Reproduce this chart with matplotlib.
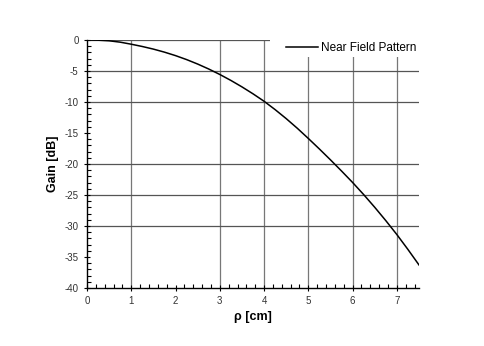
import matplotlib.pyplot as plt
from matplotlib.patches import Rectangle
import numpy as np

plt.rcParams['font.family'] = ['Liberation Sans', 'DejaVu Sans']
plt.rcParams['axes.unicode_minus'] = False

# Near field pattern data
rho = [0.0, 0.25, 0.5, 0.75, 1.0, 1.25, 1.5, 1.75, 2.0, 2.25, 2.5, 2.75, 3.0,
       3.25, 3.5, 3.75, 4.0, 4.25, 4.5, 4.75, 5.0, 5.25, 5.5, 5.75, 6.0,
       6.25, 6.5, 6.75, 7.0, 7.25, 7.5]
gain = [0.0, -0.03, -0.13, -0.35, -0.68, -1.05, -1.47, -1.96, -2.52, -3.16,
        -3.88, -4.68, -5.56, -6.52, -7.56, -8.68, -9.88, -11.23, -12.68,
        -14.23, -15.88, -17.58, -19.33, -21.13, -22.98, -24.93, -26.98,
        -29.13, -31.38, -33.78, -36.28]

xgrid = [1, 3, 4, 5, 6, 7]
ygrid = [0, -5, -10, -20, -25, -30]

fig = plt.figure(figsize=(4.85, 3.46), dpi=100)
ax = fig.add_axes([0.1794, 0.1676, 0.6845, 0.7168])

for xv in xgrid:
    ax.axvline(xv, color='#777777', linewidth=0.9, zorder=1)
for yv in ygrid:
    ax.axhline(yv, color='#555555', linewidth=0.9, zorder=1)

ax.plot(rho, gain, color='black', linewidth=1.1, label='Near Field Pattern', zorder=3)

ax.set_xlim(0, 7.5)
ax.set_ylim(-40, 0)
ax.set_xticks(np.arange(0, 8, 1))
ax.set_yticks(np.arange(-40, 1, 5))
ax.set_xticks(np.arange(0, 7.51, 0.2), minor=True)
ax.set_yticks(np.arange(-40, 0.1, 1), minor=True)
ax.tick_params(which='major', direction='inout', length=5, width=0.8,
               labelsize=7, labelcolor='#333333')
ax.tick_params(which='minor', direction='in', length=3, width=0.8)

for s in ['top', 'right']:
    ax.spines[s].set_visible(False)
for s in ['left', 'bottom']:
    ax.spines[s].set_linewidth(1.0)

ax.set_xlabel('ρ [cm]', fontsize=9, fontweight='bold', labelpad=3)
ax.set_ylabel('Gain [dB]', fontsize=9, fontweight='bold', labelpad=4)

# white area behind the legend that hides the grid
ax.add_patch(Rectangle((0.552, 0.93), 0.46, 0.09, transform=ax.transAxes,
                       facecolor='white', edgecolor='none', clip_on=False, zorder=2))

ax.legend(loc='center left', bbox_to_anchor=(0.600, 0.966), fontsize=8.5,
          frameon=False, borderpad=0, borderaxespad=0,
          handlelength=2.7, handletextpad=0.25)

fig.savefig('out.png', dpi=100)
